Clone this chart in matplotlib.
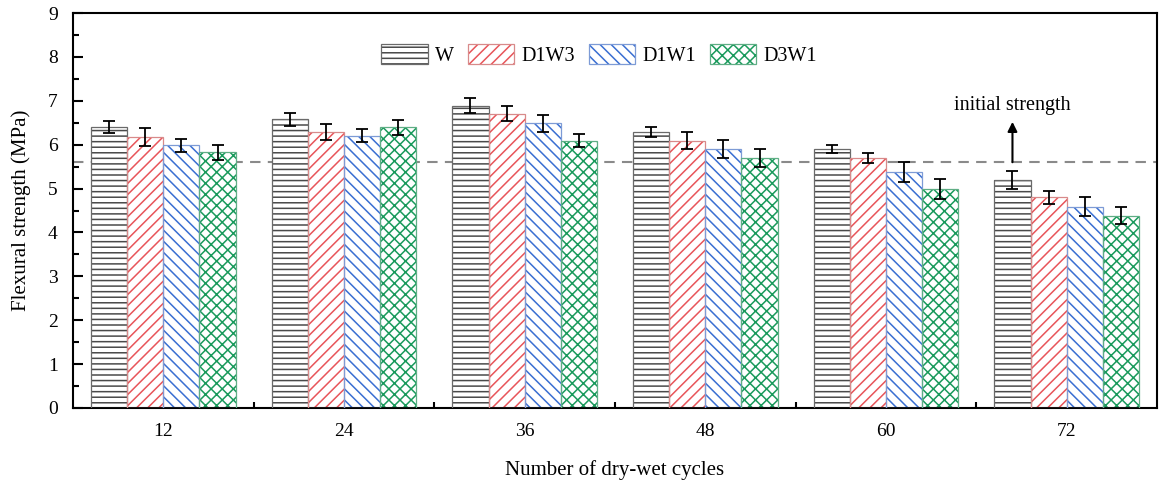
import matplotlib
matplotlib.use("Agg")
import matplotlib.pyplot as plt
import numpy as np
from matplotlib.patches import Patch
from matplotlib.legend_handler import HandlerTuple
from matplotlib.ticker import MultipleLocator, FixedLocator

plt.rcParams['font.family'] = ['Liberation Serif', 'DejaVu Serif']
plt.rcParams['hatch.linewidth'] = 1.1

cycles = ["12", "24", "36", "48", "60", "72"]
series = ["W", "D1W3", "D1W1", "D3W1"]
W_vals = [6.40, 6.58, 6.89, 6.29, 5.90, 5.19]
D1W3_vals = [6.18, 6.29, 6.70, 6.09, 5.69, 4.80]
D1W1_vals = [5.99, 6.20, 6.49, 5.90, 5.38, 4.59]
D3W1_vals = [5.83, 6.40, 6.09, 5.69, 4.99, 4.38]
W_err = [0.13, 0.15, 0.17, 0.11, 0.09, 0.20]
D1W3_err = [0.20, 0.19, 0.17, 0.20, 0.11, 0.15]
D1W1_err = [0.15, 0.15, 0.19, 0.20, 0.23, 0.22]
D3W1_err = [0.17, 0.17, 0.15, 0.20, 0.23, 0.19]
initial_strength = 5.6

values = [W_vals, D1W3_vals, D1W1_vals, D3W1_vals]
errors = [W_err, D1W3_err, D1W1_err, D3W1_err]
hatch_colors = ["#4a4a4a", "#e8555a", "#3a6fd2", "#1a9a5c"]
hatches = ["---", "///", "\\\\\\", "xxx"]
outline_colors = ["#6a6a6a", "#d88a8a", "#7d9bd6", "#5fae85"]

fig = plt.figure(figsize=(11.61, 4.88), dpi=100)
ax = fig.add_axes([73/1161, 80/488, (1157-73)/1161, (408-13)/488])

x = np.arange(len(cycles))
w = 0.2
handles = []
for i, (vals, errs) in enumerate(zip(values, errors)):
    pos = x + (i - 1.5) * w
    ax.bar(pos, vals, w, color="white", edgecolor=hatch_colors[i],
           hatch=hatches[i], linewidth=0, zorder=2)
    ax.bar(pos, vals, w, fill=False, edgecolor=outline_colors[i],
           linewidth=0.9, zorder=3)
    ax.errorbar(pos, vals, yerr=errs, fmt="none", ecolor="black",
                elinewidth=1.3, capsize=4, capthick=1.3, zorder=4)
    h1 = Patch(facecolor="white", edgecolor=hatch_colors[i], hatch=hatches[i], linewidth=0)
    h2 = Patch(fill=False, edgecolor=outline_colors[i], linewidth=0.9)
    handles.append((h1, h2))

ax.axhline(initial_strength, color="#8a8a8a", linestyle=(0, (5, 3.5)),
           linewidth=1.5, zorder=1)
ax.annotate("", xy=(4.7, 6.52), xytext=(4.7, initial_strength),
            arrowprops=dict(arrowstyle="-|>", color="black", lw=1.5,
                            mutation_scale=14, shrinkA=0, shrinkB=0))
ax.text(4.7, 6.90, "initial strength", ha="center", va="center", fontsize=14.5)

ax.set_xlim(-0.5, 5.5)
ax.set_ylim(0, 9)
ax.set_xticks(x)
ax.set_xticklabels(cycles)
ax.xaxis.set_minor_locator(FixedLocator(x[:-1] + 0.5))
ax.yaxis.set_major_locator(MultipleLocator(1))
ax.yaxis.set_minor_locator(MultipleLocator(0.5))
ax.tick_params(axis="both", which="major", direction="in", length=7, width=1.5,
               labelsize=14, pad=11)
ax.tick_params(axis="both", which="minor", direction="in", length=4, width=1.5)
for s in ax.spines.values():
    s.set_linewidth(1.5)

ax.set_xlabel("Number of dry-wet cycles", fontsize=15, labelpad=14)
ax.set_ylabel("Flexural strength (MPa)", fontsize=15, labelpad=12)

fig.legend(handles, series, loc="center", bbox_to_anchor=(599/1161, 1 - 55/488),
           ncol=4, frameon=False, fontsize=14.5, handlelength=2.3,
           handleheight=1.15, handletextpad=0.35, columnspacing=0.7,
           handler_map={tuple: HandlerTuple(ndivide=1, pad=0)})

fig.savefig("out.png", dpi=100)
